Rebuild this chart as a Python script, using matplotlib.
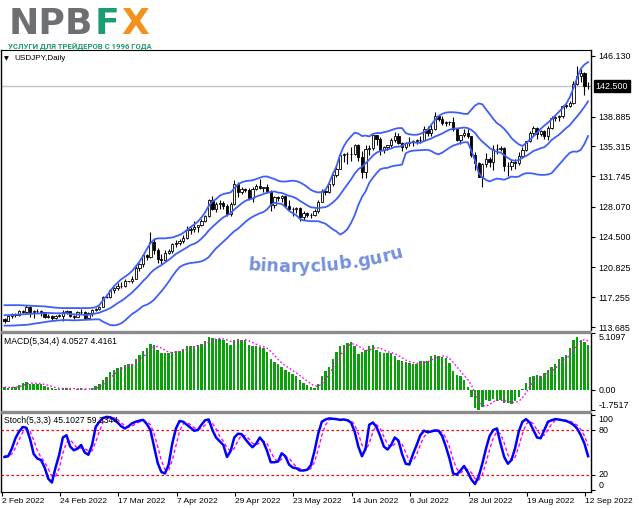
import matplotlib
matplotlib.use("Agg")
import matplotlib.pyplot as plt
import matplotlib.transforms as mtransforms
from matplotlib.font_manager import FontProperties
import numpy as np

plt.rcParams["font.family"] = ["Liberation Sans", "DejaVu Sans"]

# ---- data (USDJPY daily) ----
date_labels = ["2 Feb 2022", "24 Feb 2022", "17 Mar 2022", "7 Apr 2022", "29 Apr 2022",
               "23 May 2022", "14 Jun 2022", "6 Jul 2022", "28 Jul 2022", "19 Aug 2022",
               "12 Sep 2022"]
date_bars = [0, 16, 32, 48, 64, 80, 96, 112, 128, 144, 160]

opens = [
    114.68, 114.40, 114.98, 115.22, 115.08, 115.55, 115.54, 116.03, 115.43, 115.57,
    115.61, 115.48, 114.93, 115.00, 114.74, 115.05, 115.05, 115.50, 115.58, 114.98,
    114.89, 115.47, 115.51, 114.81, 115.31, 115.68, 115.84, 116.13, 117.29, 117.33,
    118.16, 118.32, 118.65, 118.57, 119.18, 119.20, 119.47, 120.80, 121.18, 122.30,
    122.05, 123.85, 122.87, 121.80, 121.68, 122.51, 122.78, 123.59, 123.76, 123.95,
    124.33, 125.35, 125.39, 125.62, 125.87, 126.42, 126.95, 128.89, 127.86, 128.40,
    128.52, 128.14, 127.20, 128.40, 130.82, 129.87, 130.15, 130.12, 129.09, 130.18,
    130.56, 130.29, 130.45, 129.95, 128.32, 129.25, 129.09, 129.40, 128.23, 127.78,
    127.87, 127.90, 126.84, 127.30, 127.11, 127.10, 127.62, 128.71, 130.02, 129.88,
    130.86, 131.88, 132.64, 134.27, 134.37, 134.40, 134.43, 135.45, 133.98, 132.20,
    135.03, 135.07, 136.65, 136.25, 134.92, 135.21, 135.44, 136.11, 136.61, 135.73,
    135.22, 135.70, 135.87, 135.90, 136.02, 136.10, 137.44, 136.88, 137.41, 138.93,
    138.55, 138.15, 138.20, 138.20, 137.36, 136.13, 136.65, 136.93, 136.57, 134.25,
    133.27, 131.64, 133.17, 133.78, 133.42, 135.00, 134.98, 135.14, 132.91, 133.00,
    133.42, 133.31, 134.21, 134.90, 135.90, 136.92, 137.48, 136.78, 137.13, 136.51,
    137.49, 138.74, 138.77, 138.97, 140.20, 140.18, 140.50, 142.78, 143.73, 144.10,
    142.56]
highs = [
    114.79, 115.07, 115.40, 115.36, 115.68, 115.72, 116.34, 116.20, 115.68, 115.82,
    115.70, 115.50, 115.20, 115.10, 115.12, 115.24, 115.70, 115.76, 115.60, 115.15,
    115.55, 115.80, 115.56, 115.45, 115.80, 116.00, 116.24, 117.35, 117.40, 118.28,
    118.45, 118.90, 119.03, 119.40, 119.25, 119.80, 121.00, 121.40, 122.40, 122.40,
    125.10, 124.30, 123.20, 122.40, 122.95, 123.05, 123.70, 124.05, 124.20, 124.70,
    125.75, 125.65, 126.32, 125.95, 126.65, 127.10, 129.05, 129.40, 128.70, 128.85,
    128.80, 128.40, 128.60, 131.25, 131.00, 130.40, 130.30, 130.35, 130.50, 130.80,
    131.35, 130.50, 130.80, 130.10, 129.40, 129.40, 129.45, 129.50, 128.95, 128.10,
    128.10, 128.00, 127.60, 127.45, 127.30, 127.80, 128.90, 130.20, 130.25, 130.95,
    131.95, 133.00, 134.50, 134.55, 134.60, 135.20, 135.60, 135.60, 134.70, 135.45,
    135.45, 136.70, 136.72, 136.40, 135.40, 135.50, 136.35, 137.00, 136.95, 135.80,
    135.85, 136.40, 136.10, 136.20, 136.55, 137.75, 137.70, 137.85, 139.40, 139.10,
    138.90, 138.40, 138.40, 138.85, 137.40, 136.70, 137.45, 137.45, 136.60, 134.65,
    133.45, 133.30, 134.50, 134.05, 135.50, 135.58, 135.30, 135.20, 133.40, 133.70,
    133.80, 134.65, 135.20, 136.00, 137.20, 137.70, 137.65, 137.30, 137.30, 137.70,
    139.00, 139.00, 139.10, 140.25, 140.40, 140.80, 143.08, 144.99, 144.55, 144.25,
    143.00]
lows = [
    114.15, 114.35, 114.80, 114.89, 115.00, 115.32, 115.30, 114.90, 114.80, 115.40,
    115.00, 114.80, 114.76, 114.50, 114.63, 114.88, 114.40, 115.20, 114.88, 114.66,
    114.85, 115.30, 114.70, 114.65, 115.05, 115.55, 115.72, 116.05, 117.20, 117.20,
    117.70, 118.10, 118.30, 118.45, 119.10, 119.00, 119.40, 120.40, 120.90, 121.70,
    122.00, 122.45, 121.30, 121.20, 121.60, 122.40, 122.60, 123.30, 123.50, 123.80,
    124.20, 124.80, 125.10, 125.00, 125.80, 126.20, 126.90, 127.70, 127.50, 127.80,
    127.80, 126.95, 127.00, 128.30, 129.30, 129.60, 129.80, 128.95, 128.60, 130.05,
    130.15, 129.80, 129.70, 127.52, 127.95, 128.80, 128.70, 128.05, 127.52, 127.00,
    127.30, 126.36, 126.55, 126.80, 126.70, 127.00, 127.30, 128.60, 129.50, 129.70,
    130.60, 131.70, 132.60, 133.40, 133.20, 133.60, 134.25, 133.55, 131.50, 131.50,
    134.25, 134.90, 135.50, 134.30, 134.50, 134.85, 135.25, 135.80, 135.55, 134.75,
    135.05, 135.30, 135.30, 135.60, 135.75, 136.00, 136.50, 136.60, 137.30, 138.35,
    137.90, 137.70, 137.85, 137.20, 135.90, 135.60, 136.40, 136.35, 134.00, 132.50,
    131.60, 130.40, 132.80, 132.80, 132.50, 134.40, 134.70, 132.40, 131.75, 132.50,
    132.55, 133.10, 133.90, 134.70, 135.80, 136.70, 136.20, 136.50, 136.20, 136.10,
    137.40, 138.30, 138.40, 138.70, 139.90, 140.00, 140.40, 142.60, 143.00, 141.50,
    142.20]
closes = [
    114.40, 114.98, 115.22, 115.08, 115.55, 115.54, 116.03, 115.43, 115.57, 115.61,
    115.48, 114.93, 115.00, 114.74, 115.05, 115.05, 115.50, 115.58, 114.98, 114.89,
    115.47, 115.51, 114.81, 115.31, 115.68, 115.84, 116.13, 117.29, 117.33, 118.16,
    118.32, 118.65, 118.57, 119.18, 119.20, 119.47, 120.80, 121.18, 122.30, 122.05,
    123.85, 122.87, 121.80, 121.68, 122.51, 122.78, 123.59, 123.76, 123.95, 124.33,
    125.35, 125.39, 125.62, 125.87, 126.42, 126.95, 128.89, 127.86, 128.40, 128.52,
    128.14, 127.20, 128.40, 130.82, 129.87, 130.15, 130.12, 129.09, 130.18, 130.56,
    130.29, 130.45, 129.95, 128.32, 129.25, 129.09, 129.40, 128.23, 127.78, 127.87,
    127.90, 126.84, 127.30, 127.11, 127.10, 127.62, 128.71, 130.02, 129.88, 130.86,
    131.88, 132.64, 134.27, 134.37, 134.40, 134.43, 135.45, 133.98, 132.20, 135.03,
    135.07, 136.65, 136.25, 134.92, 135.21, 135.44, 136.11, 136.61, 135.73, 135.22,
    135.70, 135.87, 135.90, 136.02, 136.10, 137.44, 136.88, 137.41, 138.93, 138.55,
    138.15, 138.20, 138.20, 137.36, 136.13, 136.65, 136.93, 136.57, 134.25, 133.27,
    131.64, 133.17, 133.78, 133.42, 135.00, 134.98, 135.14, 132.91, 133.00, 133.42,
    133.31, 134.21, 134.90, 135.90, 136.92, 137.48, 136.78, 137.13, 136.51, 137.49,
    138.74, 138.77, 138.97, 140.20, 140.18, 140.50, 142.78, 143.73, 144.10, 142.56,
    142.50]

bb_upper = [
    116.30, 116.30, 116.30, 116.30, 116.30, 116.28, 116.26, 116.24, 116.22, 116.20,
    116.18, 116.15, 116.10, 116.05, 116.00, 115.97, 115.95, 115.95, 115.95, 115.95,
    115.95, 115.95, 115.95, 115.95, 115.98, 116.05, 116.30, 116.90, 117.40, 118.00,
    118.55, 119.00, 119.40, 119.70, 120.00, 120.40, 120.95, 121.50, 122.20, 123.00,
    123.70, 124.15, 124.30, 124.30, 124.30, 124.35, 124.40, 124.55, 124.70, 124.95,
    125.30, 125.65, 125.95, 126.30, 126.80, 127.40, 128.20, 128.70, 129.00, 129.40,
    129.60, 129.70, 129.80, 130.30, 130.75, 131.00, 131.15, 131.20, 131.25, 131.40,
    131.55, 131.70, 131.70, 131.55, 131.40, 131.20, 131.10, 131.10, 131.15, 131.20,
    131.15, 131.00, 130.75, 130.45, 130.10, 129.90, 129.80, 129.85, 130.10, 130.90,
    132.00, 132.90, 134.30, 135.30, 136.00, 136.50, 136.95, 136.85, 136.55, 136.60,
    136.50, 136.80, 136.90, 136.90, 137.00, 137.10, 137.25, 137.40, 137.50, 137.50,
    136.90, 136.75, 136.70, 136.70, 136.80, 137.00, 137.30, 137.90, 138.45, 138.95,
    139.20, 139.35, 139.40, 139.40, 139.36, 139.30, 139.20, 139.20, 139.70, 140.20,
    140.45, 140.35, 139.75, 139.20, 138.60, 138.10, 137.80, 137.40, 136.90, 136.30,
    135.90, 135.55, 135.35, 135.70, 136.10, 136.50, 136.90, 137.40, 137.80, 138.15,
    138.55, 139.00, 139.45, 139.90, 140.40, 141.20, 142.30, 143.50, 144.60, 145.10,
    145.40]
bb_middle = [
    115.10, 115.10, 115.12, 115.15, 115.18, 115.20, 115.24, 115.27, 115.29, 115.31,
    115.32, 115.32, 115.37, 115.35, 115.33, 115.33, 115.33, 115.33, 115.24, 115.20,
    115.19, 115.18, 115.13, 115.16, 115.21, 115.31, 115.40, 115.58, 115.74, 115.95,
    116.23, 116.54, 116.80, 117.11, 117.47, 117.82, 118.25, 118.69, 119.20, 119.60,
    120.14, 120.54, 120.83, 121.08, 121.41, 121.71, 122.07, 122.43, 122.69, 122.96,
    123.21, 123.49, 123.64, 123.89, 124.27, 124.71, 125.24, 125.67, 126.07, 126.46,
    126.81, 127.05, 127.31, 127.76, 128.11, 128.47, 128.78, 128.96, 129.06, 129.29,
    129.45, 129.61, 129.76, 129.85, 129.92, 129.78, 129.74, 129.58, 129.38, 129.28,
    129.09, 128.78, 128.53, 128.25, 128.02, 127.96, 127.91, 127.99, 128.03, 128.25,
    128.59, 128.99, 129.52, 130.15, 130.74, 131.35, 132.04, 132.57, 132.87, 133.28,
    133.72, 134.20, 134.56, 134.75, 134.83, 134.92, 135.06, 135.24, 135.27, 135.37,
    135.66, 135.73, 135.80, 135.75, 135.74, 135.95, 136.09, 136.25, 136.48, 136.65,
    136.85, 137.10, 137.30, 137.43, 137.45, 137.50, 137.57, 137.50, 137.28, 136.93,
    136.33, 135.88, 135.51, 135.11, 134.85, 134.65, 134.57, 134.26, 133.93, 133.67,
    133.59, 133.67, 133.94, 134.16, 134.43, 134.76, 134.91, 135.09, 135.21, 135.59,
    136.07, 136.40, 136.70, 137.10, 137.50, 137.85, 138.40, 138.90, 139.45, 140.05,
    140.70]
bb_lower = [
    113.85, 113.85, 113.85, 113.88, 113.90, 113.92, 113.95, 114.00, 114.08, 114.14,
    114.20, 114.28, 114.34, 114.40, 114.44, 114.48, 114.52, 114.52, 114.50, 114.48,
    114.50, 114.52, 114.54, 114.56, 114.58, 114.60, 114.60, 114.32, 114.12, 113.92,
    113.88, 113.95, 114.12, 114.45, 114.85, 115.25, 115.52, 115.85, 116.20, 116.35,
    116.60, 116.95, 117.45, 117.95, 118.50, 119.10, 119.75, 120.35, 120.85, 121.10,
    121.25, 121.35, 121.40, 121.45, 121.55, 121.75, 122.05, 122.60, 123.10, 123.50,
    123.90, 124.30, 124.75, 125.15, 125.45, 125.85, 126.25, 126.60, 126.88, 127.10,
    127.30, 127.45, 127.77, 128.29, 128.57, 128.47, 128.42, 128.05, 127.60, 127.31,
    127.07, 126.62, 126.45, 126.40, 126.35, 126.35, 126.35, 126.20, 126.05, 125.72,
    125.39, 125.13, 124.76, 124.99, 125.40, 126.13, 127.06, 128.28, 129.25, 129.92,
    130.94, 131.56, 132.10, 132.57, 132.70, 132.74, 132.90, 133.00, 133.05, 133.13,
    134.48, 134.70, 134.80, 134.83, 134.85, 134.88, 134.90, 134.75, 134.50, 134.36,
    134.55, 134.86, 135.15, 135.40, 135.54, 135.70, 135.80, 135.80, 134.80, 133.62,
    132.15, 131.60, 131.30, 131.11, 131.30, 131.45, 131.40, 131.31, 131.50, 131.70,
    131.64, 131.70, 131.95, 132.10, 132.10, 132.05, 131.95, 131.90, 131.90, 131.95,
    132.10, 132.60, 133.10, 133.60, 134.10, 134.55, 134.70, 134.67, 134.90, 135.60,
    136.55]

macd = [
    0.26, 0.23, 0.28, 0.32, 0.46, 0.69, 0.74, 0.60, 0.55, 0.57,
    0.55, 0.42, 0.28, 0.17, 0.14, 0.14, 0.18, 0.23, 0.14, 0.07,
    0.11, 0.18, 0.09, 0.07, 0.18, 0.37, 0.55, 0.92, 1.20, 1.66,
    1.85, 1.98, 2.12, 2.26, 2.31, 2.35, 2.77, 3.14, 3.51, 3.78,
    4.15, 4.06, 3.60, 3.32, 3.32, 3.37, 3.46, 3.51, 3.55, 3.69,
    3.92, 3.97, 3.97, 4.02, 4.15, 4.38, 4.71, 4.62, 4.60, 4.57,
    4.52, 4.25, 4.06, 4.52, 4.57, 4.52, 4.48, 4.06, 3.97, 3.92,
    3.88, 3.78, 3.42, 2.77, 2.49, 2.35, 2.12, 1.85, 1.66, 1.43,
    1.25, 0.92, 0.65, 0.46, 0.28, 0.18, 0.55, 1.25, 1.75, 2.12,
    2.77, 3.46, 3.92, 4.06, 4.20, 4.34, 3.97, 3.23, 3.46, 3.60,
    3.97, 4.02, 3.60, 3.46, 3.32, 3.37, 3.32, 3.05, 2.68, 2.58,
    2.49, 2.45, 2.35, 2.35, 2.58, 2.58, 2.58, 3.05, 3.18, 3.09,
    2.95, 2.86, 2.45, 1.71, 1.38, 1.25, 0.92, 0.28, -0.55, -1.60,
    -1.75, -1.45, -0.83, -0.97, -0.78, -0.97, -0.83, -1.11, -1.11, -1.20,
    -0.97, -0.60, 0.09, 0.65, 1.20, 1.25, 1.38, 1.25, 1.52, 1.85,
    2.12, 2.31, 2.77, 2.95, 3.18, 3.78, 4.52, 4.75, 4.52, 4.34,
    4.0527]
macd_signal = [
    0.28, 0.26, 0.26, 0.27, 0.32, 0.44, 0.55, 0.62, 0.65, 0.62,
    0.57, 0.53, 0.45, 0.35, 0.25, 0.18, 0.16, 0.17, 0.17, 0.16,
    0.14, 0.13, 0.12, 0.12, 0.13, 0.18, 0.30, 0.51, 0.76, 1.08,
    1.41, 1.67, 1.90, 2.05, 2.17, 2.26, 2.42, 2.64, 2.94, 3.30,
    3.65, 3.88, 3.90, 3.78, 3.58, 3.40, 3.37, 3.42, 3.47, 3.55,
    3.67, 3.78, 3.89, 3.97, 4.02, 4.13, 4.31, 4.47, 4.58, 4.62,
    4.58, 4.49, 4.35, 4.34, 4.35, 4.42, 4.52, 4.41, 4.26, 4.11,
    3.96, 3.89, 3.75, 3.46, 3.12, 2.76, 2.44, 2.20, 2.00, 1.76,
    1.55, 1.32, 1.06, 0.82, 0.58, 0.39, 0.37, 0.57, 0.93, 1.42,
    1.97, 2.53, 3.07, 3.55, 3.91, 4.13, 4.14, 3.94, 3.75, 3.57,
    3.57, 3.76, 3.80, 3.76, 3.60, 3.44, 3.37, 3.27, 3.10, 2.91,
    2.70, 2.55, 2.47, 2.41, 2.43, 2.47, 2.52, 2.70, 2.85, 2.98,
    3.07, 3.02, 2.84, 2.49, 2.10, 1.70, 1.32, 0.96, 0.48, -0.24,
    -0.90, -1.34, -1.41, -1.25, -1.01, -0.89, -0.89, -0.92, -1.00, -1.06,
    -1.10, -0.97, -0.67, -0.21, 0.34, 0.80, 1.12, 1.27, 1.35, 1.50,
    1.69, 1.95, 2.26, 2.54, 2.80, 3.17, 3.61, 4.06, 4.39, 4.53,
    4.4161]

stoch_k = [
    44, 45, 55, 69, 78, 84, 83, 68, 48, 42,
    40, 30, 15, 10, 30, 47, 70, 73, 58, 53,
    55, 60, 50, 47, 60, 84, 91, 96, 97.5, 97,
    94, 90, 85, 82, 85, 89, 91, 92.5, 93.5, 88,
    80, 58, 36, 24, 22, 34, 62, 82, 92, 91,
    87, 83, 79, 80, 87, 93, 94, 80, 70, 65,
    60, 44, 52, 70, 75, 74.5, 68, 62, 57, 62,
    70, 64, 52, 37, 37, 38, 49, 45, 34, 30,
    29, 26, 26, 27, 33, 52, 75, 91, 94, 95.5,
    95, 94.5, 93.5, 94, 93, 90, 78, 58, 45, 55,
    87, 90, 84, 72, 58, 54, 60, 70, 66, 48,
    35, 34, 48, 60, 73, 79, 77, 78, 79.5, 79,
    72, 58, 42, 22, 20.5, 26, 32, 24, 14, 8,
    18, 35, 55, 72, 80, 82, 62, 44, 35, 40,
    56, 78, 91, 94.5, 90, 80, 70, 69, 80, 91,
    93, 94.5, 94, 93, 92, 90, 87, 82, 73, 62,
    45.1027]
stoch_d = [
    46, 45, 48, 56.3, 67.3, 77, 81.7, 78.3, 66.3, 52.7,
    43.3, 37.3, 28.3, 18.3, 18.3, 29, 49, 63.3, 67, 61.3,
    55.3, 56, 55, 52.3, 52.3, 63.7, 78.3, 90.3, 94.8, 96.8,
    96.2, 93.7, 89.7, 85.7, 84, 85.3, 88.3, 90.8, 92.3, 91.3,
    87.2, 75.3, 58, 39.3, 27.3, 26.7, 39.3, 59.3, 78.7, 88.3,
    90, 87, 83, 80.7, 82, 86.7, 91.3, 89, 81.3, 71.7,
    65, 56.3, 52, 55.3, 65.7, 73.2, 72.5, 68.2, 62.3, 60.3,
    63, 65.3, 62, 51, 42, 37.3, 41.3, 44, 42.7, 36.3,
    31, 28.3, 27, 26.3, 28.7, 37.3, 53.3, 72.7, 86.7, 93.5,
    94.8, 95, 94.3, 94, 93.5, 92.3, 87, 75.3, 60.3, 52.7,
    62.3, 77.3, 87, 82, 71.3, 61.3, 57.3, 61.3, 65.3, 61.3,
    49.7, 39, 39, 47.3, 60.3, 70.7, 76.3, 78, 78.2, 78.8,
    76.8, 69.7, 57.3, 40.7, 28.2, 22.8, 26.2, 27.3, 23.3, 15.3,
    13.3, 20.3, 36, 54, 69, 78, 74.7, 62.7, 47, 39.7,
    43.7, 58, 75, 87.8, 91.8, 88.2, 80, 73, 73, 80,
    88, 92.8, 93.8, 93.8, 93, 91.7, 89.7, 86.3, 80.7, 72.3,
    59.3344]

price_ticks = [146.130, 138.885, 135.315, 131.745, 128.070, 124.500, 120.825, 117.255, 113.685]
last_price = 142.500
macd_ticks = [5.1097, 0.0, -1.7517]
stoch_ticks = [100, 80, 20, 0]
stoch_levels = [80, 20]

series = [opens, highs, lows, closes, bb_upper, bb_middle, bb_lower,
          macd, macd_signal, stoch_k, stoch_d]
assert all(len(s) == len(closes) for s in series), [len(s) for s in series]

# ---- colours ----
BAND = "#3f5ff8"
GREEN = "#0aa00a"
MAGENTA = "#ff00ff"
BLUE = "#0000ff"
RED = "#ff0000"

W, H = 639, 508
fig = plt.figure(figsize=(W / 100, H / 100), dpi=100)
fig.patch.set_facecolor("white")


def px_box(x0, y0, x1, y1):
    return [x0 / W, 1 - y1 / H, (x1 - x0) / W, (y1 - y0) / H]


ax_p = fig.add_axes(px_box(1, 50, 591, 330))
ax_m = fig.add_axes(px_box(1, 333, 591, 410))
ax_s = fig.add_axes(px_box(1, 413, 591, 492))

x = np.arange(len(closes))
o = np.array(opens)
h = np.array(highs)
l = np.array(lows)
c = np.array(closes)

for ax in (ax_p, ax_m, ax_s):
    ax.set_xlim(-0.96, 160.8)
    ax.set_facecolor("white")
    ax.spines["top"].set_visible(False)
    ax.spines["bottom"].set_visible(False)
    for side in ("left", "right"):
        ax.spines[side].set_color("black")
        ax.spines[side].set_linewidth(1)
    ax.yaxis.tick_right()
    ax.tick_params(axis="y", direction="out", length=3, width=0.8, pad=2.5,
                   labelsize=6.4, colors="black")
    ax.tick_params(axis="x", bottom=False, labelbottom=False)

# ---- price panel ----
ax_p.spines["top"].set_visible(True)
ax_p.spines["top"].set_color("black")
ax_p.set_ylim(113.327, 146.848)
ax_p.axhline(last_price, color="#c4c4c4", lw=1, zorder=0.5)

ax_p.vlines(x, l, h, color="black", lw=0.8, zorder=2)
up = c >= o
body = np.maximum(np.abs(c - o), 0.03)
ax_p.bar(x[up], body[up], bottom=o[up], width=0.62, facecolor="white",
         edgecolor="black", lw=0.6, zorder=2.1)
ax_p.bar(x[~up], body[~up], bottom=c[~up], width=0.62, facecolor="black",
         edgecolor="black", lw=0.6, zorder=2.1)

for band in (bb_upper, bb_middle, bb_lower):
    ax_p.plot(x, band, color=BAND, lw=1.3, zorder=3)

ax_p.set_yticks(price_ticks, [f"{v:.3f}" for v in price_ticks])
blend = mtransforms.blended_transform_factory(ax_p.transAxes, ax_p.transData)
ax_p.text(1.0 + 4.5 / 590, last_price, f"{last_price:.3f}", transform=blend,
          ha="left", va="center", color="white", fontsize=6.4, zorder=5,
          bbox=dict(boxstyle="square,pad=0.18", fc="black", ec="black"))

# ---- MACD panel ----
ax_m.set_ylim(-1.7517, 5.1097)
ax_m.bar(x, macd, width=0.66, color=GREEN, lw=0, zorder=2)
ax_m.plot(x, macd_signal, color=MAGENTA, lw=1.0, ls=(0, (1.2, 1.6)), zorder=3)
ax_m.set_yticks(macd_ticks, ["5.1097", "0.00", "-1.7517"])
for t, va in zip(ax_m.get_yticklabels(), ["top", "center", "bottom"]):
    t.set_verticalalignment(va)

# ---- Stochastic panel ----
ax_s.spines["bottom"].set_visible(True)
ax_s.spines["bottom"].set_color("black")
ax_s.set_ylim(-2.67, 102.67)
for lev in stoch_levels:
    ax_s.axhline(lev, color=RED, lw=0.9, ls=(0, (2, 2)), zorder=1)
ax_s.plot(x, stoch_d, color=MAGENTA, lw=1.0, ls=(0, (2.5, 1.8)), zorder=2)
ax_s.plot(x, stoch_k, color=BLUE, lw=1.8, zorder=3)
ax_s.set_yticks(stoch_ticks, [str(v) for v in stoch_ticks])
for t, va in zip(ax_s.get_yticklabels(), ["top", "center", "center", "bottom"]):
    t.set_verticalalignment(va)

ax_s.set_xticks([b - 0.77 for b in date_bars], date_labels)
ax_s.tick_params(axis="x", bottom=True, labelbottom=True, direction="out",
                 length=3, width=0.8, pad=1.5, labelsize=6.0, colors="black")
for t in ax_s.get_xticklabels():
    t.set_horizontalalignment("left")

# ---- overlay: logo, captions, separators, watermark ----
ov = fig.add_axes([0, 0, 1, 1])
ov.set_xlim(0, W)
ov.set_ylim(H, 0)
ov.axis("off")
ov.set_zorder(10)
ov.patch.set_alpha(0)

ov.plot([0, 591], [331.5, 331.5], color="#8a8a8a", lw=2.4, solid_capstyle="butt")
ov.plot([0, 591], [411.5, 411.5], color="#8a8a8a", lw=2.4, solid_capstyle="butt")

logo = dict(fontsize=26, fontweight="bold", family="DejaVu Sans", va="baseline", ha="left")
ov.text(9, 34.5, "NPB", color="#6e6f72", **logo)
ov.text(95, 34.5, "F", color="#1c9c73", **logo)
ov.text(121, 34.5, "X", color="#f2911b", **logo)
ov.text(8, 48.8, "УСЛУГИ ДЛЯ ТРЕЙДЕРОВ С 1996 ГОДА", fontsize=5.6, fontweight="bold",
        family=["Roboto", "DejaVu Sans"], color="#1f9c6c", va="baseline", ha="left")

ov.text(4, 58.5, "▼", fontsize=4.5, family="DejaVu Sans", color="black", va="center")
ov.text(14, 58.5, "USDJPY,Daily", fontsize=5.9, color="black", va="center")
ov.text(4, 342, f"MACD(5,34,4) {macd[-1]:.4f} {macd_signal[-1]:.4f}",
        fontsize=6.2, color="black", va="center")
ov.text(4, 420.5, f"Stoch(5,3,3) {stoch_k[-1]:.4f} {stoch_d[-1]:.4f}",
        fontsize=6.2, color="black", va="center")

# watermark laid along a shallow arc
wm_text = "binaryclub.guru"
wm_prop = FontProperties(family="DejaVu Sans", weight="bold", size=12.7)
renderer = fig.canvas.get_renderer()
widths = [renderer.get_text_width_height_descent(ch, wm_prop, ismath=False)[0] for ch in wm_text]
R, s_low, x_low, y_low = 420.0, 45.0, 292.0, 272.0
s = 0.0
for ch, w in zip(wm_text, widths):
    phi = (s + w / 2 - s_low) / R
    cx = x_low + R * np.sin(phi)
    cy = y_low - R * (1 - np.cos(phi))
    ov.text(cx, cy, ch, fontproperties=wm_prop, color="#7592dc",
            rotation=np.degrees(phi), rotation_mode="anchor",
            ha="center", va="baseline")
    s += w

fig.savefig("out.png", dpi=100)
